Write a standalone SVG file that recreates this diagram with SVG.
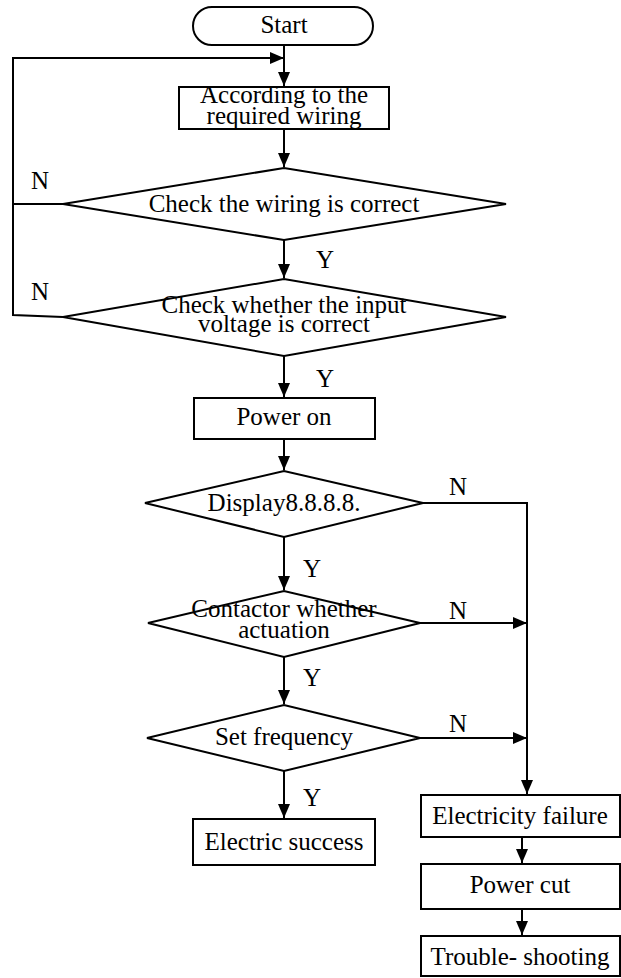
<svg xmlns="http://www.w3.org/2000/svg" width="621" height="978" viewBox="0 0 621 978">
<style>
.s{fill:#fff;stroke:#000;stroke-width:2}
.c{fill:none;stroke:#000;stroke-width:2}
text{font-family:"Liberation Serif","Times New Roman",serif;font-size:25px;fill:#000;text-anchor:middle}
</style>
<defs>
<marker id="a" markerUnits="userSpaceOnUse" markerWidth="16" markerHeight="14" refX="14" refY="7" orient="auto">
<path d="M0,1 L14,7 L0,13 Z" fill="#000"/>
</marker>
</defs>
<rect width="621" height="978" fill="#fff"/>
<g id="connectors">
<path class="c" d="M284,45 V86" marker-end="url(#a)"/>
<path class="c" d="M284,129 V167" marker-end="url(#a)"/>
<path class="c" d="M284,240 V278" marker-end="url(#a)"/>
<path class="c" d="M284,356 V397" marker-end="url(#a)"/>
<path class="c" d="M284,439 V470" marker-end="url(#a)"/>
<path class="c" d="M284,537 V590" marker-end="url(#a)"/>
<path class="c" d="M284,657 V704" marker-end="url(#a)"/>
<path class="c" d="M284,771 V818" marker-end="url(#a)"/>
<path class="c" d="M63,204 H13"/>
<path class="c" d="M63,317 L13,315 V58 H284" marker-end="url(#a)"/>
<path class="c" d="M423,503 H527 V794" marker-end="url(#a)"/>
<path class="c" d="M420,623 H527" marker-end="url(#a)"/>
<path class="c" d="M420,738 H527" marker-end="url(#a)"/>
<path class="c" d="M522,837 V863" marker-end="url(#a)"/>
<path class="c" d="M522,909 V935" marker-end="url(#a)"/>
<text x="40" y="189">N</text>
<text x="40" y="300">N</text>
<text x="325" y="268">Y</text>
<text x="325" y="387">Y</text>
<text x="312" y="577">Y</text>
<text x="312" y="686">Y</text>
<text x="312" y="806">Y</text>
<text x="458" y="495">N</text>
<text x="458" y="619">N</text>
<text x="458" y="732">N</text>
</g>
<g id="start">
<rect class="s" x="193" y="7" width="180" height="38" rx="19"/>
<text x="284" y="33">Start</text>
</g>
<g id="wiring">
<rect class="s" x="179" y="87" width="210" height="42"/>
<text x="284" y="103">According to the<tspan x="284" dy="21">required wiring</tspan></text>
</g>
<g id="check-wiring">
<polygon class="s" points="63,204 284,168 506,204 284,240"/>
<text x="284" y="212">Check the wiring is correct</text>
</g>
<g id="check-voltage">
<polygon class="s" points="63,317 284,279 506,317 284,356"/>
<text x="284" y="313">Check whether the input<tspan x="284" dy="19">voltage is correct</tspan></text>
</g>
<g id="power-on">
<rect class="s" x="194" y="398" width="181" height="41"/>
<text x="284" y="425">Power on</text>
</g>
<g id="display">
<polygon class="s" points="145,503 284,471 423,503 284,537"/>
<text x="284" y="511">Display8.8.8.8.</text>
</g>
<g id="contactor">
<polygon class="s" points="148,623 284,591 420,623 284,657"/>
<text x="284" y="617">Contactor whether<tspan x="284" dy="21">actuation</tspan></text>
</g>
<g id="set-frequency">
<polygon class="s" points="147,738 284,705 420,738 284,771"/>
<text x="284" y="745">Set frequency</text>
</g>
<g id="electric-success">
<rect class="s" x="193" y="819" width="182" height="46"/>
<text x="284" y="850">Electric success</text>
</g>
<g id="electricity-failure">
<rect class="s" x="421" y="795" width="199" height="42"/>
<text x="520" y="824">Electricity failure</text>
</g>
<g id="power-cut">
<rect class="s" x="421" y="864" width="199" height="45"/>
<text x="520" y="893">Power cut</text>
</g>
<g id="trouble-shooting">
<rect class="s" x="421" y="936" width="199" height="40"/>
<text x="520" y="965">Trouble- shooting</text>
</g>
</svg>
